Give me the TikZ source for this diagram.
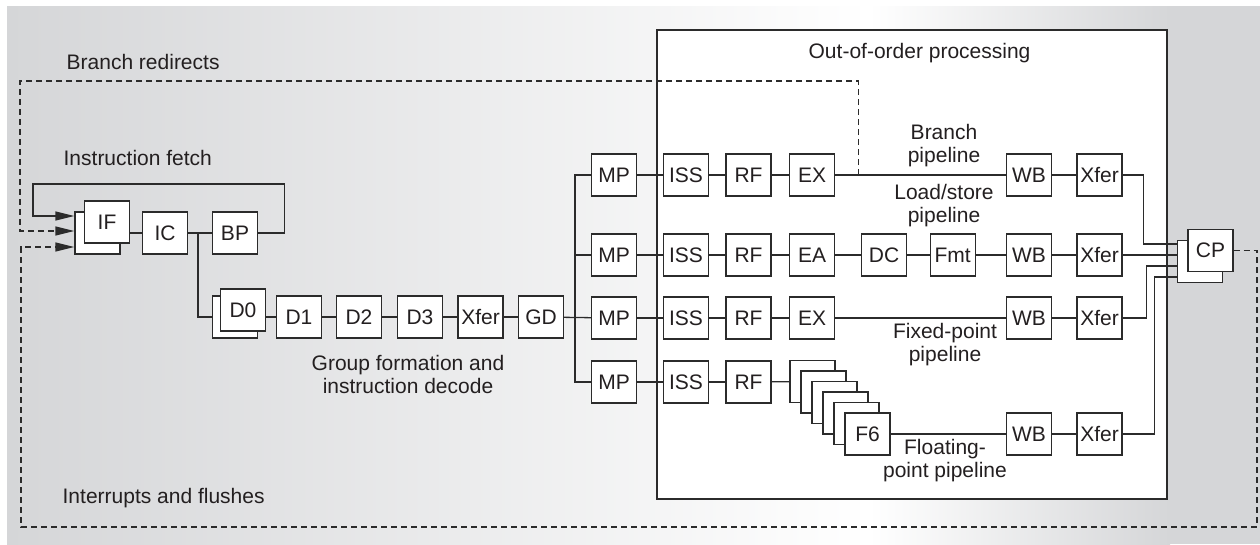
\documentclass[tikz,border=0pt]{standalone}
\usepackage{fontspec}
\setmainfont{Liberation Sans}
\usetikzlibrary{arrows.meta}
\definecolor{linea}{HTML}{2B2B2B}
\definecolor{texto}{HTML}{231F20}
\definecolor{fondo}{HTML}{D5D6D8}
\tikzset{
  caja/.style={draw=linea, fill=white, minimum width=45pt, minimum height=42pt, inner sep=0pt, text=texto},
  etiq/.style={text=texto, inner sep=0pt},
  redir/.style={dash pattern=on 6pt off 4pt},
  punta/.style={-{Triangle[length=19pt,width=9pt]}}
}

\begin{document}
\begin{tikzpicture}[x=1pt, y=-1pt, font=\fontsize{21}{23}\selectfont, line width=1.3pt, draw=linea]
\useasboundingbox (0,0) rectangle (1260,544);
% fondo
\fill[left color=fondo, right color=white] (7,6) rectangle (870,544);
\fill[left color=white, right color=fondo] (869,6) rectangle (1170,544);
\fill[fondo] (1169,6) rectangle (1260,544);
\draw[fill=white] (657,30) rectangle (1167,499);

% busqueda
\node[caja] (IFb) at (97.5,233) {};
\node[caja] (IF) at (107,222) {IF};
\node[caja] (IC) at (165,233) {IC};
\node[caja] (BP) at (235,233) {BP};
\draw (IF.east |- IC.west) -- (IC.west);
\draw (IC) -- (BP);
\coordinate (dec) at (198,233);

% decodificacion
\node[caja] (D0b) at (235,317) {};
\node[caja] (D0) at (243,310) {D0};
\node[caja] (D1) at (299,317) {D1};
\node[caja] (D2) at (359,317) {D2};
\node[caja] (D3) at (420,317) {D3};
\node[caja] (XFd) at (480.5,317) {Xfer};
\node[caja] (GD) at (541,317) {GD};
\draw (dec) |- (D0b.west);
\draw (D0.east |- D1.west) -- (D1.west);
\draw (D1) -- (D2) -- (D3) -- (XFd) -- (GD);

% fuera de orden
\foreach \y/\i in {175/1,255/2,318/3,382/4}{
  \node[caja] (MP\i) at (614,\y) {MP};
  \node[caja] (ISS\i) at (686,\y) {ISS};
  \node[caja] (RF\i) at (748.5,\y) {RF};
  \draw (MP\i) -- (ISS\i) -- (RF\i);
}
\foreach \y/\i in {175/1,255/2,318/3,434/4}{
  \node[caja] (WB\i) at (1029,\y) {WB};
  \node[caja] (XF\i) at (1099.5,\y) {Xfer};
  \draw (WB\i) -- (XF\i);
}
\coordinate (bus) at (575,0);
\draw (GD) -- (MP3);
\draw (MP1.west) -| (bus |- MP4) -- (MP4.west);
\draw (bus |- MP2) -- (MP2.west);

\node[caja] (EX1) at (812,175) {EX};
\node[caja] (EA) at (812,255) {EA};
\node[caja] (DC) at (884,255) {DC};
\node[caja] (Fmt) at (952.7,255) {Fmt};
\node[caja] (EX3) at (812,318) {EX};
\foreach \k in {1,...,5}
  \node[caja] (F\k) at ({812.5+11*(\k-1)},{381.5+10.5*(\k-1)}) {};
\node[caja] (F6) at (867.5,434) {F6};
\draw (RF1) -- (EX1) -- (WB1);
\draw (RF2) -- (EA) -- (DC) -- (Fmt) -- (WB2);
\draw (RF3) -- (EX3) -- (WB3);
\draw (RF4) -- (F1);
\draw (F6) -- (WB4);

% finalizacion
\node[caja] (CPb) at (1200,261.5) {};
\node[caja] (CP) at (1210.5,250.5) {CP};
\draw (XF1.east) -- ++(21,0) |- ([yshift=17.5pt]CPb.west);
\draw (XF2.east) -- (XF2.east -| CPb.west);
\draw (XF3.east) -- ++(24,0) |- ([yshift=-4.5pt]CPb.west);
\draw (XF4.east) -- ++(32,0) |- ([yshift=-15.5pt]CPb.west);

% realimentaciones
\coordinate (salto) at ([xshift=23pt]EX1.east);
\draw[punta] (BP.east) -- ++(26,0) |- (33,184) |- ([yshift=17pt]IFb.west);
\draw[redir, punta] (salto) |- (20,81) |- ([yshift=2pt]IFb.west);
\draw[redir, punta] (CP.east) -| (1257,527) -| (21,247) -- ([yshift=-14pt]IFb.west);

% etiquetas
\node[etiq, anchor=base west] (redirl) at (66,69) {Branch redirects};
\node[etiq, anchor=base west] (fetchl) at (63,165) {Instruction fetch};
\node[etiq, anchor=base west] (flushl) at (62,503) {Interrupts and flushes};
\node[etiq, anchor=base west] (oool) at (808,58) {Out-of-order processing};
\node[etiq, align=center] (decl) at (408,374) {Group formation and\\instruction decode};
\node[etiq, align=center] (brl) at (944,146) {Branch\\pipeline};
\node[etiq, align=center] (lsl) at (944,206) {Load/store\\pipeline};
\node[etiq, align=center] (fxl) at (945,345) {Fixed-point\\pipeline};
\node[etiq, align=center] (fpl) at (945,461) {Floating-\\point pipeline};
\end{tikzpicture}
\end{document}
